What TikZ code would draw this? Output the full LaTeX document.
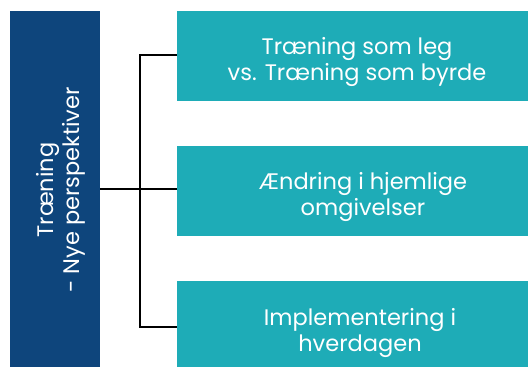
\documentclass[tikz,border=0pt]{standalone}
\usepackage{fontspec}
\setmainfont{Poppins}
\definecolor{darkblue}{RGB}{14,69,124}
\definecolor{tealbox}{RGB}{30,172,183}
\begin{document}
\begin{tikzpicture}[x=1pt,y=1pt,
  mainbox/.style={fill=darkblue,draw=none,inner sep=0pt,minimum width=90pt,minimum height=356pt},
  tbox/.style={fill=tealbox,draw=none,inner sep=0pt,minimum width=351pt},
  lbl/.style={text=white,align=center,font=\fontsize{22.5}{26}\selectfont},
  conn/.style={draw=black,line width=2pt}]
\useasboundingbox (0,0) rectangle (528,367);
\node[mainbox,anchor=south west] (main) at (10,0) {};
\node[tbox,minimum height=90pt,anchor=south west] (b1) at (177,266) {};
\node[tbox,minimum height=90pt,anchor=south west] (b2) at (177,131) {};
\node[tbox,minimum height=86pt,anchor=south west] (b3) at (177,0) {};
\node[lbl,rotate=90] (mt) at (60.5,177) {Træning\\- Nye perspektiver};
\node[lbl] (t1) at (357,305) {Træning som leg\\vs. Træning som byrde};
\node[lbl] (t2) at (363,170) {Ændring i hjemlige\\omgivelser};
\node[lbl] (t3) at (360,34) {Implementering i\\hverdagen};
\coordinate (jt) at (140,312);
\coordinate (jb) at (140,40);
\draw[conn] (b1.west |- jt) -- (jt) -- (jb) -- (b3.west |- jb);
\draw[conn] (main.east) -- (main.east -| b2.west);
\end{tikzpicture}
\end{document}
